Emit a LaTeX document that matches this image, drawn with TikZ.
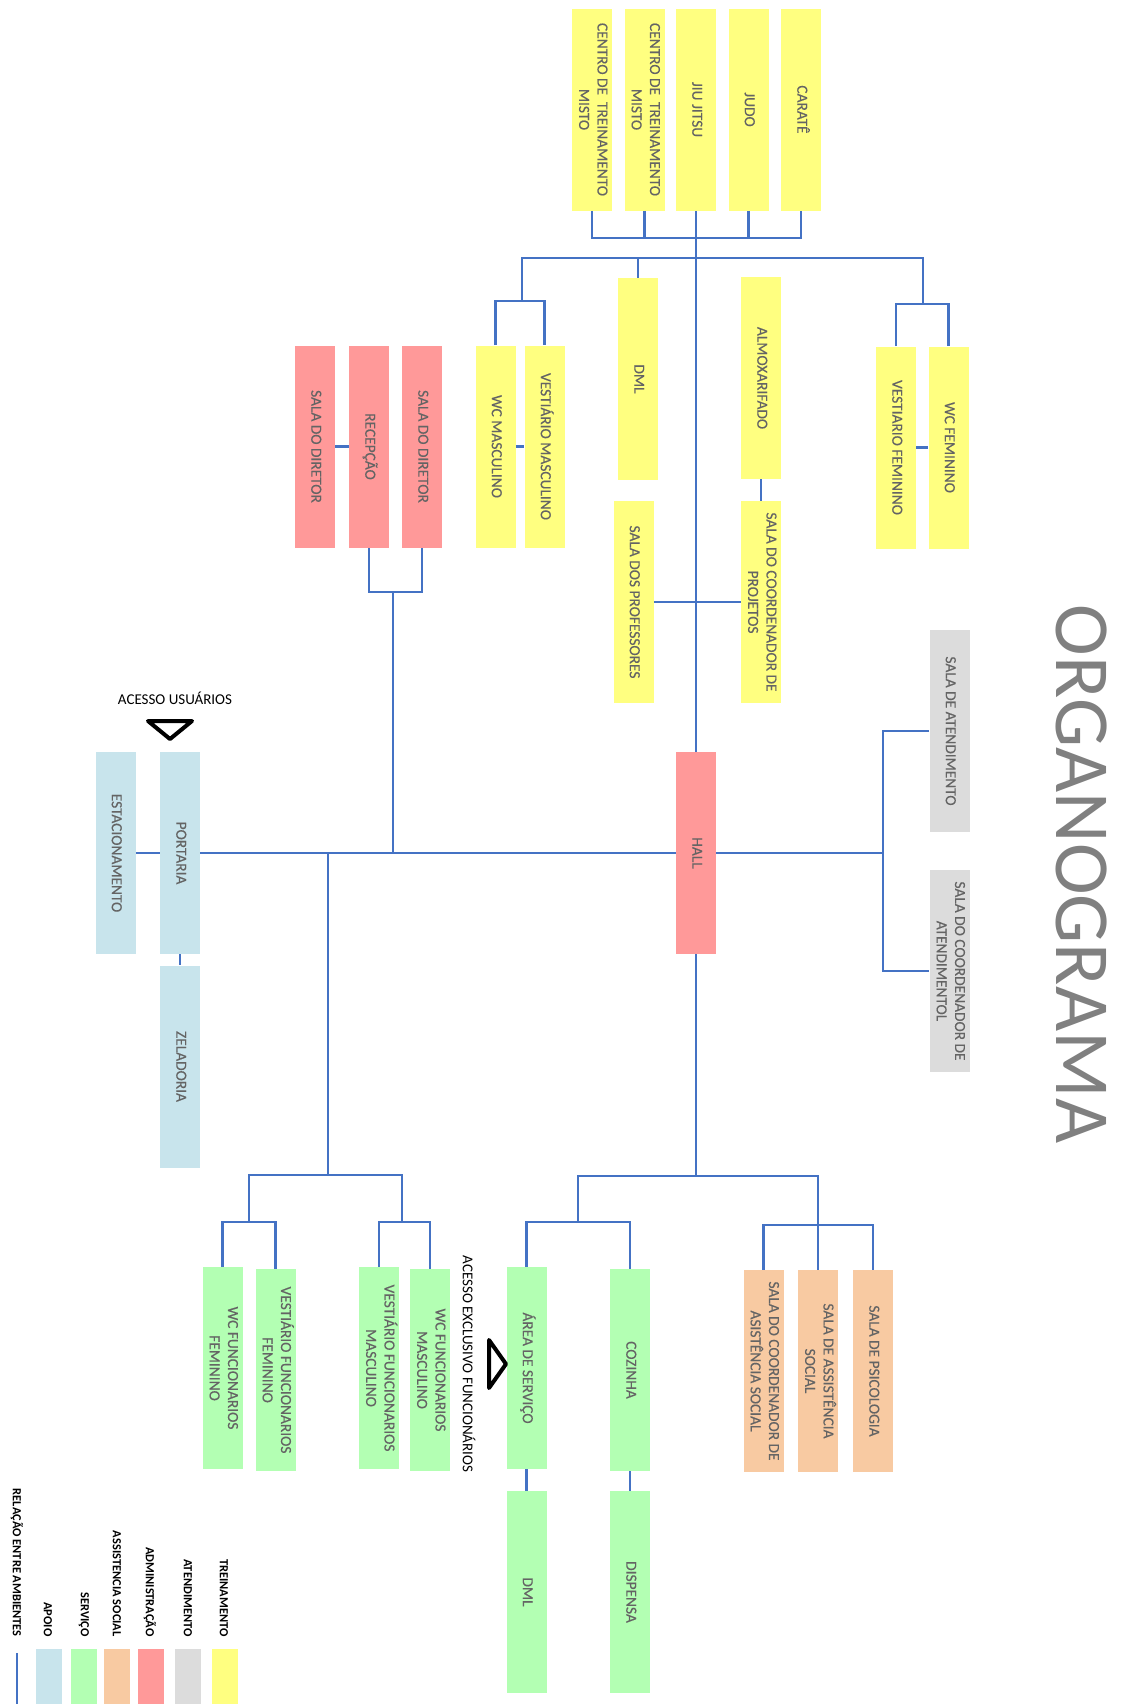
\documentclass[tikz,border=0pt]{standalone}
\usepackage{fontspec}
\setmainfont{Carlito}
\newfontfamily\roomfont[FakeBold=0.35]{Carlito}
\usepackage{graphicx}

% palette
\definecolor{cTrein}{RGB}{255,255,128}
\definecolor{cAtend}{RGB}{220,220,220}
\definecolor{cAdmin}{RGB}{255,153,153}
\definecolor{cSocial}{RGB}{248,202,162}
\definecolor{cServ}{RGB}{179,255,179}
\definecolor{cApoio}{RGB}{200,228,236}
\definecolor{cLink}{RGB}{68,114,196}
\definecolor{cText}{RGB}{100,100,100}
\definecolor{cTitle}{RGB}{128,128,128}

% rotated, centred label for a room box
\newcommand\vtxt[1]{\rotatebox{-90}{\renewcommand\arraystretch{1}\begin{tabular}{@{}c@{}}#1\end{tabular}}}

\tikzset{
  room/.style={rectangle, inner sep=0pt, minimum width=20pt, minimum height=101pt,
               text=cText, font=\roomfont\fontsize{7.7}{9.2}\selectfont},
  trein/.style={room, fill=cTrein},
  atend/.style={room, fill=cAtend},
  admin/.style={room, fill=cAdmin},
  social/.style={room, fill=cSocial},
  serv/.style={room, fill=cServ},
  apoio/.style={room, fill=cApoio},
  link/.style={draw=cLink, line width=1.25pt},
  swatch/.style={rectangle, inner sep=0pt, minimum width=13pt, minimum height=27.5pt},
  legtxt/.style={rotate=-90, anchor=east, inner sep=0pt, font=\bfseries\fontsize{6.2}{7}\selectfont},
  note/.style={inner sep=0pt, font=\fontsize{7.5}{9}\selectfont},
  arrowtri/.style={draw=black, line width=2pt, line join=round},
}

\begin{document}
\begin{tikzpicture}[x=0.5pt, y=-0.5pt]
\useasboundingbox (0,0) rectangle (1121,1704);
\fill[white] (0,0) rectangle (1121,1704);

% title
\node[rotate=-90, text=cTitle, inner sep=0pt, font=\fontsize{39}{39}\selectfont] (title) at (1082,874) {ORGANOGRAMA};

% ---- training block ----
\node[trein] (ct1)    at (592,109.5)   {\vtxt{CENTRO DE\ \ TREINAMENTO\\MISTO}};
\node[trein] (ct2)    at (644.5,109.5) {\vtxt{CENTRO DE\ \ TREINAMENTO\\MISTO}};
\node[trein] (jiu)    at (696,109.5)   {\vtxt{JIU JITSU}};
\node[trein] (judo)   at (748.5,109.5) {\vtxt{JUDO}};
\node[trein] (carate) at (801,109.5)   {\vtxt{CARATÊ}};

\node[trein] (dmla)   at (638,379)     {\vtxt{DML}};
\node[trein] (wcm)    at (495.5,446.5) {\vtxt{WC MASCULINO}};
\node[trein] (vm)     at (544.5,446.5) {\vtxt{VESTIÁRIO MASCULINO}};
\node[trein] (almox)  at (761,378)     {\vtxt{ALMOXARIFADO}};
\node[trein] (cproj)  at (761,602)     {\vtxt{SALA DO COORDENADOR DE\\PROJETOS}};
\node[trein] (prof)   at (633.5,602)   {\vtxt{SALA DOS PROFESSORES}};
\node[trein] (vf)     at (896,447.5)   {\vtxt{VESTIARIO FEMININO}};
\node[trein] (wcf)    at (948.5,447.5) {\vtxt{WC FEMININO}};

% ---- administration ----
\node[admin] (sda)    at (315,446.5)   {\vtxt{SALA DO DIRETOR}};
\node[admin] (rec)    at (369,446.5)   {\vtxt{RECEPÇÃO}};
\node[admin] (sdb)    at (422,446.5)   {\vtxt{SALA DO DIRETOR}};
\node[admin] (hall)   at (696,853)     {\vtxt{HALL}};

% ---- attendance ----
\node[atend] (ata)    at (949.5,731)   {\vtxt{SALA DE ATENDIMENTO}};
\node[atend] (atb)    at (949.5,971)   {\vtxt{SALA DO COORDENADOR DE\\ATENDIMENTOL}};

% ---- support ----
\node[apoio] (port)   at (180,853)     {\vtxt{PORTARIA}};
\node[apoio] (estac)  at (115.5,853)   {\vtxt{ESTACIONAMENTO}};
\node[apoio] (zel)    at (180,1066.5)  {\vtxt{ZELADORIA}};

% ---- service ----
\node[serv] (wcff)    at (222.5,1368)  {\vtxt{WC FUNCIONARIOS\\FEMININO}};
\node[serv] (vff)     at (275.5,1370)  {\vtxt{VESTIÁRIO FUNCIONARIOS\\FEMININO}};
\node[serv] (vfm)     at (379,1368)    {\vtxt{VESTIÁRIO FUNCIONARIOS\\MASCULINO}};
\node[serv] (wcfm)    at (430,1370)    {\vtxt{WC FUNCIONARIOS\\MASCULINO}};
\node[serv] (area)    at (526.5,1368)  {\vtxt{ÁREA DE SERVIÇO}};
\node[serv] (coz)     at (630,1370)    {\vtxt{COZINHA}};
\node[serv] (dmlb)    at (526.5,1592)  {\vtxt{DML}};
\node[serv] (disp)    at (630,1592)    {\vtxt{DISPENSA}};

% ---- social assistance ----
\node[social] (scoord) at (763.5,1371) {\vtxt{SALA DO COORDENADOR DE\\ASISTÊNCIA SOCIAL}};
\node[social] (sasst)  at (818,1371)   {\vtxt{SALA DE ASSISTÊNCIA\\SOCIAL}};
\node[social] (spsi)   at (873,1371)   {\vtxt{SALA DE PSICOLOGIA}};

% junction points
\coordinate (tb)    at (696,238);
\coordinate (ub)    at (696,258);
\coordinate (mascJ) at (522,301);
\coordinate (femJ)  at (923,304);
\coordinate (admJ)  at (393,592);
\coordinate (atJ)   at (883,853);
\coordinate (llJ)   at (328,1175);
\coordinate (ffJ)   at (249,1222);
\coordinate (fmJ)   at (402,1222);
\coordinate (lrJ)   at (696,1176);
\coordinate (servJ) at (578,1222);
\coordinate (socJ)  at (818,1225);

% ---- connectors ----
\draw[link] (ct1.south) -- (ct1.south |- tb) -- (carate.south |- tb) -- (carate.south);
\draw[link] (ct2.south) -- (ct2.south |- tb);
\draw[link] (judo.south) -- (judo.south |- tb);
\draw[link] (jiu.south) -- (hall.north);

\draw[link] (mascJ) -- (mascJ |- ub) -- (femJ |- ub) -- (femJ);
\draw[link] (wcm.north) -- (wcm.north |- mascJ) -- (vm.north |- mascJ) -- (vm.north);
\draw[link] (wcm.east) -- (vm.west);
\draw[link] (vf.north) -- (vf.north |- femJ) -- (wcf.north |- femJ) -- (wcf.north);
\draw[link] (vf.east) -- (wcf.west);
\draw[link] (dmla.north) -- (dmla.north |- ub);
\draw[link] (almox.south) -- (cproj.north);
\draw[link] (prof.east) -- (cproj.west);

\draw[link] (sda.east) -- (rec.west);
\draw[link] (rec.south) -- (rec.south |- admJ) -- (sdb.south |- admJ) -- (sdb.south);
\draw[link] (admJ) -- (admJ |- port.east);

\draw[link] (estac.east) -- (port.west);
\draw[link] (port.east) -- (hall.west);
\draw[link] (port.south) -- (zel.north);
\draw[link] (hall.east) -- (atJ);
\draw[link] (ata.west) -| (atJ) |- (atb.west);

\draw[link] (llJ |- port.east) -- (llJ);
\draw[link] (ffJ) -- (ffJ |- llJ) -- (fmJ |- llJ) -- (fmJ);
\draw[link] (wcff.north) -- (wcff.north |- ffJ) -- (vff.north |- ffJ) -- (vff.north);
\draw[link] (vfm.north) -- (vfm.north |- fmJ) -- (wcfm.north |- fmJ) -- (wcfm.north);

\draw[link] (hall.south) -- (lrJ);
\draw[link] (servJ) -- (servJ |- lrJ) -- (sasst.north |- lrJ) -- (sasst.north);
\draw[link] (area.north) -- (area.north |- servJ) -- (coz.north |- servJ) -- (coz.north);
\draw[link] (scoord.north) -- (scoord.north |- socJ) -- (spsi.north |- socJ) -- (spsi.north);
\draw[link] (area.south) -- (dmlb.north);
\draw[link] (coz.south) -- (disp.north);

% ---- access markers ----
\node[note] (acu) at (175,698) {ACESSO USUÁRIOS};
\draw[arrowtri] (148,721) -- (192,721) -- (170,739) -- cycle;
\node[note, rotate=-90] (acf) at (469,1364) {ACESSO EXCLUSIVO FUNCIONÁRIOS};
\draw[arrowtri] (489,1340) -- (506,1364) -- (489,1388) -- cycle;

% ---- legend ----
\coordinate (lgA) at (17,1653);
\coordinate (lgB) at (17,1704);
\draw[link] (lgA) -- (lgB);
\node[swatch, fill=cApoio]  (sw1) at (49,1676.5)    {};
\node[swatch, fill=cServ]   (sw2) at (84,1676.5)    {};
\node[swatch, fill=cSocial] (sw3) at (116.5,1676.5) {};
\node[swatch, fill=cAdmin]  (sw4) at (151,1676.5)   {};
\node[swatch, fill=cAtend]  (sw5) at (187.5,1676.5) {};
\node[swatch, fill=cTrein]  (sw6) at (224.5,1676.5) {};
\node[legtxt] (lt0) at (17,1637)  {RELAÇÃO ENTRE AMBIENTES};
\node[legtxt] (lt1) at (48,1637)  {APOIO};
\node[legtxt] (lt2) at (84,1637)  {SERVIÇO};
\node[legtxt] (lt3) at (117,1637) {ASSISTENCIA SOCIAL};
\node[legtxt] (lt4) at (150,1637) {ADMINISTRAÇÃO};
\node[legtxt] (lt5) at (188,1637) {ATENDIMENTO};
\node[legtxt] (lt6) at (224,1637) {TREINAMENTO};
\end{tikzpicture}
\end{document}
